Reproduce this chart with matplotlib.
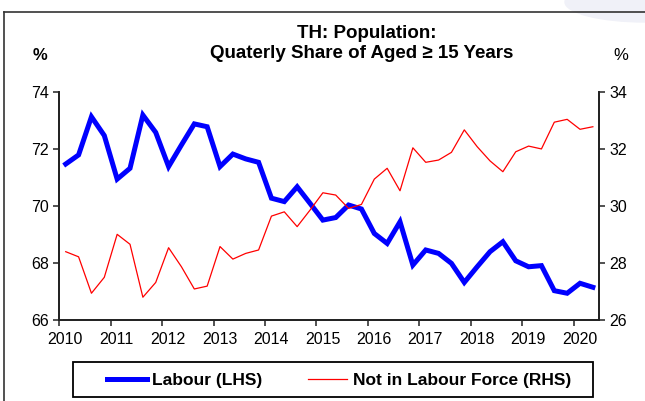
import matplotlib
matplotlib.use("Agg")
import matplotlib.pyplot as plt
import matplotlib.transforms as mtransforms
from matplotlib.patches import Ellipse, Rectangle
import pandas as pd

# Thailand, quarterly share of population aged 15+ (%)
quarters = pd.period_range("2010Q1", "2020Q2", freq="Q")
labour = [71.48, 71.80, 73.14, 72.48, 70.95, 71.33, 73.20, 72.59, 71.39,
          72.15, 72.89, 72.79, 71.39, 71.83, 71.66, 71.54,
          70.28, 70.16, 70.68, 70.10, 69.51, 69.60, 70.04, 69.90,
          69.04, 68.69, 69.45, 67.93, 68.46, 68.34, 67.99, 67.32,
          67.87, 68.40, 68.75, 68.08, 67.87, 67.91, 67.03, 66.94, 67.29, 67.15]
not_in_lf = [28.40, 28.22, 26.94, 27.50, 29.01, 28.66, 26.80, 27.32, 28.54,
             27.87, 27.09, 27.19, 28.58, 28.14, 28.34, 28.46,
             29.65, 29.80, 29.28, 29.86, 30.47, 30.39, 29.92, 30.06,
             30.95, 31.33, 30.54, 32.05, 31.54, 31.62, 31.89, 32.68,
             32.09, 31.59, 31.21, 31.91, 32.11, 32.01, 32.95, 33.05, 32.70, 32.79]
years = list(range(2010, 2021))

# mid-quarter position as decimal year
x = [q.year + (q.quarter - 0.5) / 4 for q in quarters]

plt.rcParams["font.family"] = ["Liberation Sans", "DejaVu Sans"]

W, H = 645, 401
fig = plt.figure(figsize=(W / 100, H / 100), dpi=100)
ax = fig.add_axes([59.3 / W, 1 - 320 / H, 540 / W, 227.7 / H])
ax2 = ax.twinx()

ax.plot(x, labour, color="#0000ff", lw=3.6, solid_joinstyle="miter", zorder=3)
ax2.plot(x, not_in_lf, color="#ff0000", lw=0.9, zorder=2)

ax.set_xlim(2010, 2020.5)
ax.set_ylim(66, 74)
ax2.set_ylim(26, 34)
ax.set_yticks(range(66, 75, 2))
ax2.set_yticks(range(26, 35, 2))
ax.set_xticks(years)
ax.set_xticklabels([str(y) for y in years])

for a in (ax, ax2):
    a.spines["top"].set_visible(False)
    for s in a.spines.values():
        s.set_linewidth(1.3)
        s.set_color("#222222")
    a.tick_params(direction="out", length=4.5, width=1.1, labelsize=11.5,
                  pad=3, color="#222222")
ax.tick_params(axis="x", pad=4)

# labels sit slightly right of the year ticks
shift = mtransforms.ScaledTranslation(6 / 100, 0, fig.dpi_scale_trans)
for lab in ax.get_xticklabels():
    lab.set_transform(lab.get_transform() + shift)

fig.text(367 / W, 1 - 33 / H, "TH: Population:", ha="center", va="center",
         fontsize=13.5, fontweight="bold")
fig.text(362 / W, 1 - 53 / H, "Quaterly Share of Aged \u2265 15 Years",
         ha="center", va="center", fontsize=13.5, fontweight="bold")
fig.text(40 / W, 1 - 56 / H, "%", ha="center", va="center", fontsize=12,
         fontweight="bold")
fig.text(621 / W, 1 - 56 / H, "%", ha="center", va="center", fontsize=12)

# legend: entries without frame, box drawn separately (wide side padding)
h1, = ax.plot([], [], color="#0000ff", lw=3.6)
h2, = ax.plot([], [], color="#ff0000", lw=0.9)
leg = fig.legend([h1, h2], ["Labour (LHS)", "Not in Labour Force (RHS)"],
                 loc="center", bbox_to_anchor=(339 / W, 1 - 380 / H), ncol=2,
                 frameon=False, prop={"weight": "bold", "size": 12.5},
                 handlelength=2.3, handletextpad=0.3, columnspacing=2.6,
                 borderpad=0.2)
fig.add_artist(Rectangle((72.5 / W, 1 - 397 / H), 520 / W, 35 / H,
                         transform=fig.transFigure, fill=False,
                         edgecolor="black", lw=1.3))

# slide frame and corner decoration
fig.add_artist(plt.Line2D([3.5 / W, 3.5 / W], [0, 1 - 12 / H],
                          transform=fig.transFigure, color="#333333", lw=1.2))
fig.add_artist(plt.Line2D([3.5 / W, 1], [1 - 12 / H, 1 - 12 / H],
                          transform=fig.transFigure, color="#333333", lw=1.2))
fig.add_artist(Ellipse((645 / W, 1 - 2 / H), 160 / W, 40 / H,
                       transform=fig.transFigure, color="#f0f1f8", zorder=-1))

fig.savefig("out.png", dpi=100)
